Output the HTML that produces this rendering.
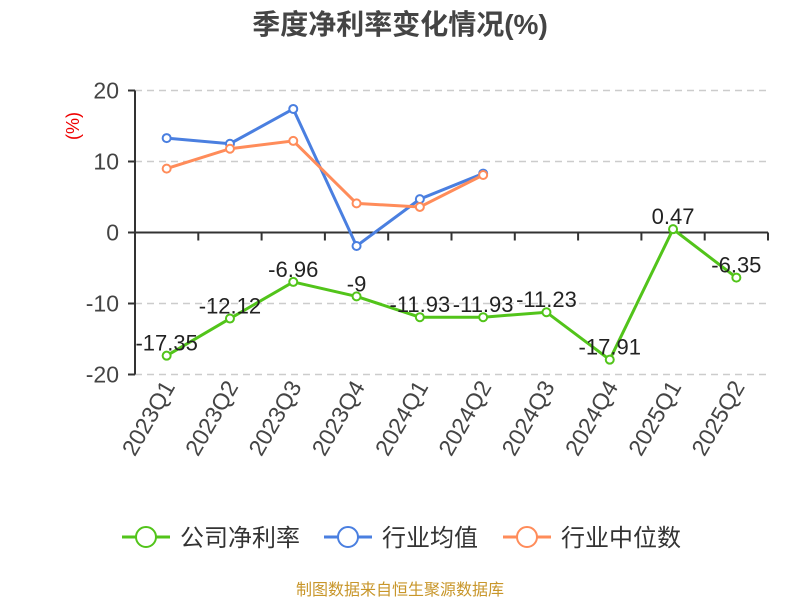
<!DOCTYPE html>
<html><head><meta charset="utf-8"><style>
body{margin:0;background:#fff;font-family:"Liberation Sans","Noto Sans CJK SC",sans-serif}
</style></head><body>
<svg width="800" height="600" font-family="'Liberation Sans','Noto Sans CJK SC',sans-serif">
<text x="400" y="34" text-anchor="middle" font-size="28" font-weight="bold" fill="#444">季度净利率变化情况(%)</text>
<text transform="translate(79,126) rotate(-90)" text-anchor="middle" font-size="18" fill="#e00">(%)</text>
<g id="grid"></g><g id="axes"></g><g id="series"></g>
<g font-size="24" fill="#333">
<g><line x1="122" y1="537" x2="170" y2="537" stroke="#52c41a" stroke-width="3"/><circle cx="146" cy="537" r="10" fill="#fff" stroke="#52c41a" stroke-width="2"/><text x="180" y="546">公司净利率</text></g>
<g><line x1="324" y1="537" x2="372" y2="537" stroke="#4a7fe0" stroke-width="3"/><circle cx="348" cy="537" r="10" fill="#fff" stroke="#4a7fe0" stroke-width="2"/><text x="382" y="546">行业均值</text></g>
<g><line x1="503" y1="537" x2="551" y2="537" stroke="#ff8c5a" stroke-width="3"/><circle cx="527" cy="537" r="10" fill="#fff" stroke="#ff8c5a" stroke-width="2"/><text x="561" y="546">行业中位数</text></g>
</g>
<text x="400" y="595" text-anchor="middle" font-size="16" fill="#c8962a">制图数据来自恒生聚源数据库</text>
</svg>
<script>
const categories=["2023Q1","2023Q2","2023Q3","2023Q4","2024Q1","2024Q2","2024Q3","2024Q4","2025Q1","2025Q2"];
const company=[-17.35,-12.12,-6.96,-9,-11.93,-11.93,-11.23,-17.91,0.47,-6.35];
const industryAvg=[13.3,12.5,17.4,-1.9,4.7,8.3];
const industryMedian=[9.0,11.8,12.9,4.1,3.6,8.1];
const yTicks=[20,10,0,-10,-20];
const NS="http://www.w3.org/2000/svg";
const L=135,R=768,step=(R-L)/categories.length;
const x=i=>L+step*(i+0.5);
const y=v=>232.5-v*7.1;
function mk(tag,attrs,parent,txt){const e=document.createElementNS(NS,tag);for(const k in attrs)e.setAttribute(k,attrs[k]);if(txt!==undefined)e.textContent=txt;parent.appendChild(e);return e;}
const grid=document.getElementById('grid'),axes=document.getElementById('axes'),ser=document.getElementById('series');
yTicks.forEach(t=>{
 if(t!==0){const g=mk('line',{x1:L,x2:R,y1:y(t),y2:y(t),stroke:'#ccc','stroke-width':1.5,'stroke-dasharray':'7,5'},grid);
 
 }
 const tk=mk('line',{x1:L-7,x2:L,y1:y(t),y2:y(t),stroke:'#333','stroke-width':2},axes);
 
 
 const lb=mk('text',{x:L-16,y:y(t)+8,'text-anchor':'end','font-size':23,fill:'#444'},axes,String(t));
 
 
});
const ya=mk('line',{x1:L,x2:L,y1:y(20),y2:y(-20),stroke:'#333','stroke-width':2},axes);


const xa=mk('line',{x1:L,x2:R,y1:y(0),y2:y(0),stroke:'#333','stroke-width':2},axes);


categories.forEach((c,i)=>{
 const tx=L+step*(i+1);
 const tk=mk('line',{x1:tx,x2:tx,y1:y(0),y2:y(0)+8,stroke:'#333','stroke-width':2},axes);
 
 
 const lb=mk('text',{transform:`translate(${x(i)+9},${y(-20)+12}) rotate(-60)`,'text-anchor':'end','font-size':23,fill:'#444'},axes,c);
 
 
});
function line(data,color,name,labels){
 const pts=data.map((v,i)=>x(i)+','+y(v)).join(' ');
 const p=mk('polyline',{points:pts,fill:'none',stroke:color,'stroke-width':3},ser);
 
 
 data.forEach((v,i)=>{
  const c=mk('circle',{cx:x(i),cy:y(v),r:4,fill:'#fff',stroke:color,'stroke-width':2},ser);
  
  
  if(labels){const t=mk('text',{x:x(i),y:y(v)-5,'text-anchor':'middle','font-size':22,fill:'#222'},ser,String(v));
  
  }
 });
}
line(industryAvg,'#4a7fe0','industry-avg',false);
line(industryMedian,'#ff8c5a','industry-median',false);
line(company,'#52c41a','company',true);
</script>
</body></html>
